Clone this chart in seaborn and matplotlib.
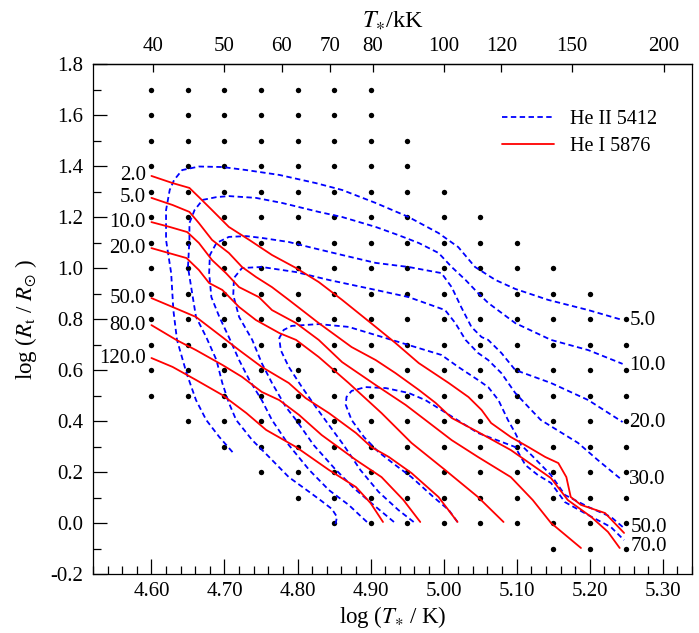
import numpy as np
import matplotlib
matplotlib.use("Agg")
import matplotlib.pyplot as plt
from matplotlib.lines import Line2D
from matplotlib.ticker import MultipleLocator, FormatStrFormatter, NullLocator
import seaborn as sns

# ---- model grid: columns in log T*, and the log R_t range covered in each ----
grid_logT = [4.60, 4.65, 4.70, 4.75, 4.80, 4.85, 4.90, 4.95, 5.00, 5.05, 5.10, 5.15, 5.20, 5.25]
grid_logR_low = [0.5, 0.4, 0.3, 0.2, 0.1, 0.0, 0.0, 0.0, 0.0, 0.0, 0.0, -0.1, -0.1, -0.1]
grid_logR_high = [1.7, 1.7, 1.7, 1.7, 1.7, 1.7, 1.7, 1.5, 1.3, 1.2, 1.1, 1.0, 0.9, 0.8]

# ---- He I 5876 equivalent-width contours (log T*, log R_t) ----
hei_levels = ["2.0", "5.0", "10.0", "20.0", "50.0", "80.0", "120.0"]
hei_2_T = [4.600, 4.629, 4.652, 4.665, 4.683, 4.706, 4.734, 4.765, 4.798, 4.829, 4.861, 4.907, 4.934,
           4.966, 5.007, 5.034, 5.052, 5.065, 5.092, 5.116, 5.139, 5.157, 5.168, 5.174, 5.188, 5.221, 5.247]
hei_2_R = [1.361, 1.333, 1.314, 1.278, 1.227, 1.161, 1.110, 1.051, 1.000, 0.945, 0.875, 0.769, 0.706,
           0.627, 0.549, 0.494, 0.443, 0.392, 0.337, 0.298, 0.259, 0.235, 0.180, 0.102, 0.071, 0.039, -0.039]
hei_5_T = [4.600, 4.629, 4.652, 4.665, 4.683, 4.706, 4.724, 4.743, 4.765, 4.788, 4.811, 4.829, 4.874,
           4.907, 4.934, 4.966, 4.989, 5.011, 5.047, 5.092, 5.125, 5.147, 5.170, 5.202, 5.225, 5.241]
hei_5_R = [1.275, 1.247, 1.220, 1.176, 1.110, 1.059, 1.004, 0.965, 0.925, 0.875, 0.824, 0.784, 0.690,
           0.639, 0.588, 0.522, 0.471, 0.412, 0.357, 0.286, 0.220, 0.176, 0.090, 0.024, -0.035, -0.098]
hei_10_T = [4.600, 4.625, 4.649, 4.665, 4.683, 4.702, 4.720, 4.747, 4.765, 4.798, 4.829, 4.861, 4.907,
            4.948, 4.975, 5.011, 5.047, 5.092, 5.122, 5.147, 5.188]
hei_10_R = [1.180, 1.161, 1.141, 1.098, 1.031, 0.980, 0.925, 0.886, 0.835, 0.784, 0.718, 0.631, 0.541,
            0.463, 0.404, 0.325, 0.259, 0.180, 0.090, 0.000, -0.098]
hei_20_T = [4.600, 4.648, 4.665, 4.679, 4.697, 4.720, 4.743, 4.775, 4.798, 4.829, 4.870, 4.915, 4.956,
            5.002, 5.047, 5.082]
hei_20_R = [1.078, 1.039, 0.992, 0.941, 0.914, 0.847, 0.796, 0.745, 0.718, 0.651, 0.549, 0.431, 0.314,
            0.208, 0.102, 0.004]
hei_50_T = [4.600, 4.629, 4.661, 4.697, 4.720, 4.751, 4.788, 4.811, 4.843, 4.880, 4.901, 4.925, 4.956,
            4.993, 5.019]
hei_50_R = [0.882, 0.847, 0.808, 0.729, 0.678, 0.612, 0.549, 0.490, 0.431, 0.353, 0.298, 0.259, 0.196,
            0.102, 0.004]
hei_80_T = [4.600, 4.634, 4.661, 4.697, 4.724, 4.751, 4.775, 4.802, 4.833, 4.880, 4.915, 4.945, 4.968]
hei_80_R = [0.776, 0.718, 0.678, 0.620, 0.573, 0.514, 0.482, 0.424, 0.345, 0.247, 0.180, 0.090, 0.004]
hei_120_T = [4.600, 4.629, 4.661, 4.697, 4.730, 4.757, 4.798, 4.843, 4.880, 4.900, 4.917]
hei_120_R = [0.647, 0.612, 0.561, 0.502, 0.431, 0.365, 0.298, 0.208, 0.141, 0.078, 0.004]

# ---- He II 5412 equivalent-width contours (log T*, log R_t) ----
heii_levels = ["5.0", "10.0", "20.0", "30.0", "50.0", "70.0"]
heii_5_T = [4.711, 4.693, 4.675, 4.661, 4.648, 4.635, 4.630, 4.627, 4.620, 4.620, 4.625, 4.631, 4.642,
            4.665, 4.697, 4.730, 4.775, 4.825, 4.861, 4.907, 4.952, 4.993, 5.020, 5.043, 5.071, 5.098,
            5.143, 5.198, 5.245]
heii_5_R = [0.278, 0.337, 0.404, 0.482, 0.588, 0.718, 0.835, 0.980, 1.110, 1.227, 1.306, 1.345, 1.384,
            1.398, 1.396, 1.384, 1.365, 1.333, 1.306, 1.255, 1.200, 1.137, 1.082, 1.004, 0.953, 0.918,
            0.875, 0.835, 0.796]
heii_10_T = [4.852, 4.854, 4.847, 4.833, 4.816, 4.788, 4.761, 4.738, 4.716, 4.706, 4.697, 4.689, 4.675,
             4.661, 4.655, 4.650, 4.652, 4.652, 4.659, 4.670, 4.689, 4.706, 4.743, 4.779, 4.829, 4.861,
             4.907, 4.938, 4.966, 4.993, 5.011, 5.030, 5.047, 5.061, 5.098, 5.147, 5.198, 5.245]
heii_10_R = [-0.004, 0.024, 0.055, 0.086, 0.122, 0.180, 0.259, 0.325, 0.404, 0.471, 0.549, 0.639, 0.729,
             0.808, 0.914, 1.004, 1.110, 1.176, 1.227, 1.267, 1.278, 1.282, 1.275, 1.255, 1.220, 1.200,
             1.161, 1.129, 1.098, 1.059, 1.004, 0.953, 0.902, 0.863, 0.784, 0.718, 0.678, 0.624]
heii_20_T = [4.895, 4.870, 4.843, 4.816, 4.788, 4.765, 4.751, 4.734, 4.720, 4.706, 4.693, 4.682, 4.679,
             4.680, 4.689, 4.706, 4.730, 4.751, 4.788, 4.816, 4.861, 4.907, 4.952, 4.997, 5.011, 5.024,
             5.038, 5.052, 5.061, 5.079, 5.098, 5.147, 5.198, 5.245]
heii_20_R = [0.004, 0.071, 0.129, 0.208, 0.306, 0.404, 0.482, 0.561, 0.639, 0.729, 0.808, 0.886, 0.980,
             1.051, 1.098, 1.122, 1.125, 1.118, 1.102, 1.082, 1.051, 1.020, 1.004, 0.980, 0.925, 0.847,
             0.769, 0.729, 0.718, 0.667, 0.600, 0.549, 0.482, 0.396]
heii_30_T = [4.932, 4.904, 4.877, 4.850, 4.822, 4.798, 4.784, 4.765, 4.751, 4.738, 4.720, 4.712, 4.713,
             4.724, 4.751, 4.798, 4.843, 4.907, 4.952, 5.002, 5.016, 5.030, 5.047, 5.061, 5.079, 5.098,
             5.116, 5.133, 5.184, 5.211, 5.244]
heii_30_R = [0.004, 0.071, 0.137, 0.216, 0.306, 0.404, 0.455, 0.549, 0.627, 0.718, 0.808, 0.894, 0.961,
             1.000, 1.004, 0.984, 0.953, 0.914, 0.886, 0.835, 0.784, 0.718, 0.667, 0.639, 0.588, 0.510,
             0.455, 0.404, 0.314, 0.247, 0.169]
heii_50_T = [4.959, 4.938, 4.911, 4.886, 4.863, 4.843, 4.825, 4.806, 4.788, 4.777, 4.775, 4.781, 4.792,
             4.829, 4.870, 4.907, 4.952, 4.997, 5.020, 5.047, 5.061, 5.075, 5.088, 5.098, 5.106, 5.120,
             5.147, 5.166, 5.198, 5.229, 5.247]
heii_50_R = [0.004, 0.051, 0.122, 0.208, 0.306, 0.384, 0.455, 0.533, 0.612, 0.678, 0.725, 0.757, 0.773,
             0.780, 0.769, 0.737, 0.698, 0.659, 0.612, 0.561, 0.533, 0.482, 0.404, 0.353, 0.306, 0.267,
             0.188, 0.110, 0.063, 0.024, -0.020]
heii_70_T = [5.019, 5.007, 4.986, 4.956, 4.934, 4.911, 4.891, 4.874, 4.866, 4.867, 4.874, 4.893, 4.921,
             4.952, 4.975, 4.997, 5.047, 5.098, 5.112, 5.129, 5.147, 5.166, 5.198, 5.229, 5.247]
heii_70_R = [0.004, 0.051, 0.102, 0.180, 0.227, 0.278, 0.337, 0.404, 0.463, 0.494, 0.518, 0.533, 0.529,
             0.510, 0.482, 0.443, 0.353, 0.298, 0.227, 0.188, 0.157, 0.082, 0.031, -0.016, -0.067]

# vertical nudges (points) of the right-hand He II level labels
heii_label_dy = [0.0, -1.5, 0.0, 0.0, 0.5, -4.5]

# upper axis: stellar temperature in kK
top_ticks_kK = [40, 50, 60, 70, 80, 100, 120, 150, 200]

hei_curves = [(hei_2_T, hei_2_R), (hei_5_T, hei_5_R), (hei_10_T, hei_10_R), (hei_20_T, hei_20_R),
              (hei_50_T, hei_50_R), (hei_80_T, hei_80_R), (hei_120_T, hei_120_R)]
heii_curves = [(heii_5_T, heii_5_R), (heii_10_T, heii_10_R), (heii_20_T, heii_20_R),
               (heii_30_T, heii_30_R), (heii_50_T, heii_50_R), (heii_70_T, heii_70_R)]

# ---- style ----
sns.set_theme(style="ticks")
plt.rcParams.update({
    "font.family": ["Liberation Serif", "DejaVu Serif"],
    "mathtext.fontset": "stix",
    "axes.unicode_minus": False,
    "axes.edgecolor": "black",
    "axes.labelcolor": "black",
    "text.color": "black",
    "xtick.color": "black",
    "ytick.color": "black",
    "axes.linewidth": 0.9,
})

RED = "#ff0000"
BLUE = "#0000ff"
FS = 15
LFS = 16.5

fig = plt.figure(figsize=(6.99, 6.33), dpi=100)
ax = fig.add_axes([93 / 699, 1 - 574 / 633, (692 - 93) / 699, (574 - 64) / 633])

# grid points
pts_T, pts_R = [], []
for t, lo, hi in zip(grid_logT, grid_logR_low, grid_logR_high):
    for r in np.round(np.arange(lo, hi + 1e-6, 0.1), 1):
        pts_T.append(t)
        pts_R.append(r)
sns.scatterplot(x=pts_T, y=pts_R, color="black", s=15, linewidth=0, ax=ax, zorder=2)

# contours
for T, R in heii_curves:
    sns.lineplot(x=T, y=R, sort=False, estimator=None, color=BLUE, linewidth=1.3,
                 linestyle=(0, (3.0, 1.9)), ax=ax, zorder=3)
for T, R in hei_curves:
    sns.lineplot(x=T, y=R, sort=False, estimator=None, color=RED, linewidth=1.3,
                 linestyle="-", ax=ax, zorder=4)

# level labels
for lab, (T, R) in zip(hei_levels, hei_curves):
    ax.annotate(lab, (T[0], R[0]), xytext=(-4, 0), textcoords="offset points",
                ha="right", va="center", fontsize=FS)
for lab, dy, (T, R) in zip(heii_levels, heii_label_dy, heii_curves):
    ax.annotate(lab, (T[-1], R[-1]), xytext=(5, dy), textcoords="offset points",
                ha="left", va="center", fontsize=FS)

# axes limits and ticks
ax.set_xlim(4.52, 5.34)
ax.set_ylim(-0.2, 1.8)
ax.xaxis.set_major_locator(MultipleLocator(0.1))
ax.xaxis.set_minor_locator(MultipleLocator(0.02))
ax.xaxis.set_major_formatter(FormatStrFormatter("%.2f"))
ax.yaxis.set_major_locator(MultipleLocator(0.2))
ax.yaxis.set_minor_locator(MultipleLocator(0.1))
ax.yaxis.set_major_formatter(FormatStrFormatter("%.1f"))
ax.tick_params(axis="x", which="major", direction="in", length=11, width=0.9,
               top=False, labelsize=FS, pad=6)
ax.tick_params(axis="x", which="minor", direction="in", length=5.5, width=0.9, top=False)
ax.tick_params(axis="y", which="major", direction="in", length=10, width=0.9,
               right=False, labelsize=FS, pad=7)
ax.tick_params(axis="y", which="minor", direction="in", length=6, width=0.9, right=False)
for s in ax.spines.values():
    s.set_visible(True)

ax.set_xlabel(r"log ($T_{\ast}$ / K)", fontsize=LFS, labelpad=2)
ax.set_ylabel(r"log ($R_{\rm t}$ / $R_{\odot}$ )", fontsize=LFS, labelpad=8)

# temperature axis on top
sec = ax.secondary_xaxis("top", functions=(lambda x: 10 ** x / 1000.0,
                                           lambda t: np.log10(np.clip(t, 1e-6, None) * 1000.0)))
sec.set_xticks(top_ticks_kK)
sec.set_xticklabels([str(t) for t in top_ticks_kK])
sec.xaxis.set_minor_locator(NullLocator())
sec.tick_params(axis="x", direction="in", length=6, width=0.9, labelsize=FS, pad=6)
sec.set_xlabel(r"$T_{\ast}$/kK", fontsize=LFS + 1, labelpad=7)

# legend
handles = [Line2D([], [], color=BLUE, lw=1.3, linestyle=(0, (3.0, 1.9))),
           Line2D([], [], color=RED, lw=1.3, linestyle="-")]
ax.legend(handles, ["He II 5412", "He I 5876"], loc="upper left",
          bbox_to_anchor=(0.683, 0.91), frameon=False, fontsize=14.5,
          borderpad=0, borderaxespad=0, handlelength=2.6, handletextpad=0.75,
          labelspacing=0.4)

fig.savefig("out.png", dpi=100)
